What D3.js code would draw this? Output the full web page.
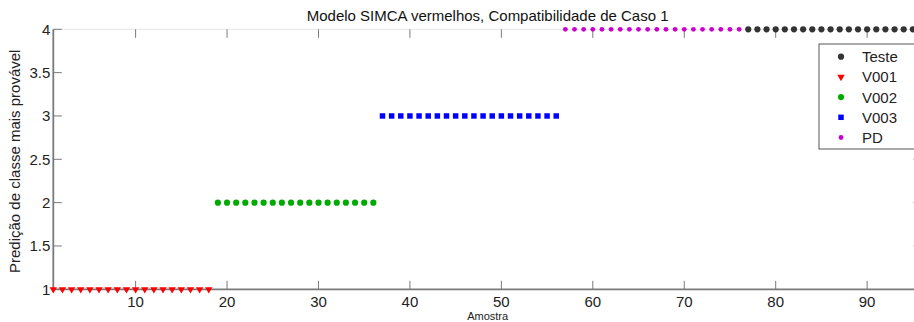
<!DOCTYPE html>
<html>
<head>
<meta charset="utf-8">
<script src="https://cdn.jsdelivr.net/npm/d3@7"></script>
<style>
  body { margin: 0; background: #fff; }
  svg { display: block; font-family: "Liberation Sans", Arial, sans-serif; }
</style>
</head>
<body>
<svg id="chart"></svg>
<script>
// sample numbers (Amostra) and predicted class for each group
const testeX = [77, 78, 79, 80, 81, 82, 83, 84, 85, 86, 87, 88, 89, 90, 91, 92, 93, 94, 95, 96];
const testeY = [4, 4, 4, 4, 4, 4, 4, 4, 4, 4, 4, 4, 4, 4, 4, 4, 4, 4, 4, 4];
const v001X = [1, 2, 3, 4, 5, 6, 7, 8, 9, 10, 11, 12, 13, 14, 15, 16, 17, 18];
const v001Y = [1, 1, 1, 1, 1, 1, 1, 1, 1, 1, 1, 1, 1, 1, 1, 1, 1, 1];
const v002X = [19, 20, 21, 22, 23, 24, 25, 26, 27, 28, 29, 30, 31, 32, 33, 34, 35, 36];
const v002Y = [2, 2, 2, 2, 2, 2, 2, 2, 2, 2, 2, 2, 2, 2, 2, 2, 2, 2];
const v003X = [37, 38, 39, 40, 41, 42, 43, 44, 45, 46, 47, 48, 49, 50, 51, 52, 53, 54, 55, 56];
const v003Y = [3, 3, 3, 3, 3, 3, 3, 3, 3, 3, 3, 3, 3, 3, 3, 3, 3, 3, 3, 3];
const pdX = [57, 58, 59, 60, 61, 62, 63, 64, 65, 66, 67, 68, 69, 70, 71, 72, 73, 74, 75, 76];
const pdY = [4, 4, 4, 4, 4, 4, 4, 4, 4, 4, 4, 4, 4, 4, 4, 4, 4, 4, 4, 4];

const xTicks = [10, 20, 30, 40, 50, 60, 70, 80, 90];
const yTicks = [1, 1.5, 2, 2.5, 3, 3.5, 4];
const seriesNames = ["Teste", "V001", "V002", "V003", "PD"];

const W = 914, H = 322;
const margin = { top: 29.3, right: -8, bottom: 32.7, left: 53.3 };

const svg = d3.select("#chart").attr("width", W).attr("height", H);

const x = d3.scaleLinear().domain([1, 96]).range([margin.left, W - margin.right]);
const y = d3.scaleLinear().domain([1, 4]).range([H - margin.bottom, margin.top]);

const series = [
  { name: "Teste", xs: testeX, ys: testeY, color: "#333333", shape: "circle", size: 30 },
  { name: "V001", xs: v001X, ys: v001Y, color: "#ff0000", shape: "tri", size: 24 },
  { name: "V002", xs: v002X, ys: v002Y, color: "#00aa00", shape: "circle", size: 30 },
  { name: "V003", xs: v003X, ys: v003Y, color: "#0000ff", shape: "square", size: 30 },
  { name: "PD", xs: pdX, ys: pdY, color: "#cc00cc", shape: "circle", size: 18 }
];

function symbolPath(shape, size) {
  if (shape === "tri") return d3.symbol(d3.symbolTriangle, size)();
  if (shape === "square") return d3.symbol(d3.symbolSquare, size)();
  return d3.symbol(d3.symbolCircle, size)();
}

// axes box
const axisColor = "#7a7a7a";
const x0 = x.range()[0], x1 = x.range()[1];
const y0 = y.range()[0], y1 = y.range()[1];
svg.append("line").attr("x1", x0).attr("x2", x1).attr("y1", y1).attr("y2", y1)
  .attr("stroke", "#e6e6e6").attr("stroke-width", 1);
svg.append("line").attr("x1", x1).attr("x2", x1).attr("y1", y0).attr("y2", y1)
  .attr("stroke", axisColor).attr("stroke-width", 1.5);

const tickLen = 8.5;
// x ticks (bottom and top, pointing inward)
const xt = svg.append("g");
xTicks.forEach(t => {
  xt.append("line").attr("x1", x(t)).attr("x2", x(t)).attr("y1", y0).attr("y2", y0 - tickLen)
    .attr("stroke", axisColor).attr("stroke-width", 1);
  xt.append("line").attr("x1", x(t)).attr("x2", x(t)).attr("y1", y1).attr("y2", y1 + tickLen)
    .attr("stroke", axisColor).attr("stroke-width", 1);
  xt.append("text").attr("x", x(t)).attr("y", y0 + 18).attr("text-anchor", "middle")
    .attr("font-size", 15).attr("fill", "#222").text(t);
});
// y ticks (left and right, pointing inward)
const yt = svg.append("g");
yTicks.forEach(t => {
  yt.append("line").attr("x1", x0).attr("x2", x0 + tickLen).attr("y1", y(t)).attr("y2", y(t))
    .attr("stroke", axisColor).attr("stroke-width", 1);
  yt.append("line").attr("x1", x1).attr("x2", x1 - tickLen).attr("y1", y(t)).attr("y2", y(t))
    .attr("stroke", axisColor).attr("stroke-width", 1);
  yt.append("text").attr("x", x0 - 3).attr("y", y(t)).attr("dy", "0.36em").attr("text-anchor", "end")
    .attr("font-size", 15).attr("fill", "#222").text(t);
});

svg.append("line").attr("x1", x0).attr("x2", x1).attr("y1", y0).attr("y2", y0)
  .attr("stroke", axisColor).attr("stroke-width", 1.8);
svg.append("line").attr("x1", x0).attr("x2", x0).attr("y1", y0).attr("y2", y1)
  .attr("stroke", axisColor).attr("stroke-width", 1.8);

// points
series.forEach(s => {
  const g = svg.append("g").attr("fill", s.color);
  s.xs.forEach((xv, i) => {
    g.append("path")
      .attr("d", symbolPath(s.shape, s.size))
      .attr("transform", `translate(${x(xv)},${y(s.ys[i])})` + (s.shape === "tri" ? " rotate(180)" : ""));
  });
});

// title and labels
svg.append("text").attr("x", (x0 + x1) / 2).attr("y", 21).attr("text-anchor", "middle")
  .attr("font-size", 15).attr("fill", "#111").text("Modelo SIMCA vermelhos, Compatibilidade de Caso 1");
svg.append("text").attr("x", (x0 + x1) / 2).attr("y", 320).attr("text-anchor", "middle")
  .attr("font-size", 11).attr("fill", "#222").text("Amostra");
svg.append("text").attr("transform", `translate(20,${(y0 + y1) / 2 + 2}) rotate(-90)`)
  .attr("text-anchor", "middle").attr("font-size", 15).attr("fill", "#222")
  .text("Predição de classe mais provável");

// legend
const leg = svg.append("g").attr("transform", "translate(819,44)");
leg.append("rect").attr("width", 100).attr("height", 105)
  .attr("fill", "#fff").attr("stroke", "#555").attr("stroke-width", 1);
series.forEach((s, i) => {
  const ly = 12.7 + i * 20.2;
  leg.append("path").attr("d", symbolPath(s.shape, s.size))
    .attr("fill", s.color)
    .attr("transform", `translate(22,${ly})` + (s.shape === "tri" ? " rotate(180)" : ""));
  leg.append("text").attr("x", 43).attr("y", ly).attr("dy", "0.36em")
    .attr("font-size", 15).attr("fill", "#222").text(seriesNames[i]);
});
</script>
</body>
</html>
